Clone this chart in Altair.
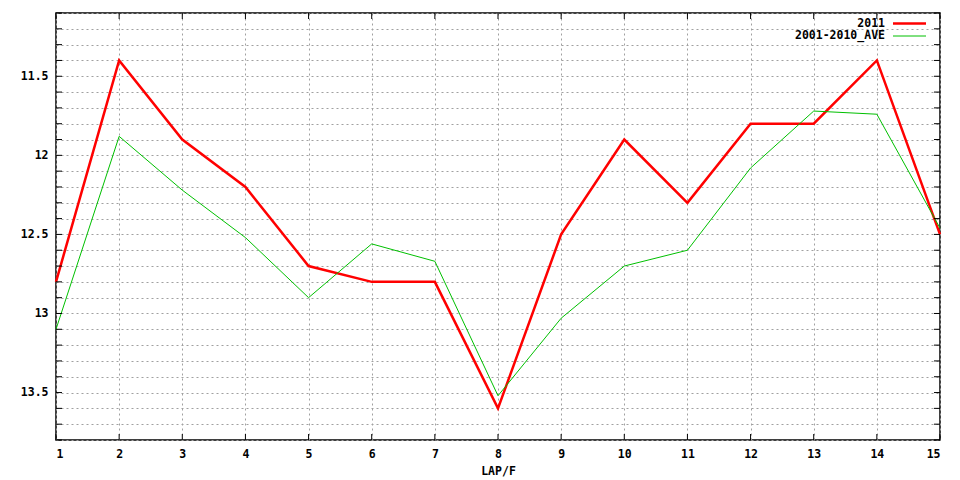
import altair as alt
import pandas as pd

laps = list(range(1, 16))
series_2011 = [12.8, 11.4, 11.9, 12.2, 12.7, 12.8, 12.8, 13.6, 12.5, 11.9, 12.3, 11.8, 11.8, 11.4, 12.5]
series_ave = [13.1, 11.88, 12.22, 12.52, 12.9, 12.56, 12.67, 13.52, 13.03, 12.7, 12.6, 12.08, 11.72, 11.74, 12.46]
series_names = ["2011", "2001-2010_AVE"]
series_colors = ["#ff0000", "#00c000"]
series_widths = [2.5, 1]
y_ticks = [round(11.1 + 0.1 * i, 1) for i in range(28)]

rows = []
for x, v in zip(laps, series_2011):
    rows.append({"lap": x, "time": v, "series": series_names[0]})
for x, v in zip(laps, series_ave):
    rows.append({"lap": x, "time": v, "series": series_names[1]})
df = pd.DataFrame(rows)

W, H = 884, 427
FONT = "DejaVu Sans Mono"
FS = 11.5

xscale = alt.Scale(domain=[1, 15], nice=False, zero=False)
yscale = alt.Scale(domain=[11.1, 13.8], reverse=True, nice=False, zero=False)
cscale = alt.Scale(domain=series_names, range=series_colors)
wscale = alt.Scale(domain=series_names, range=series_widths)

xaxis = alt.Axis(values=laps, title="LAP/F", grid=True, gridColor="#a0a0a0", gridDash=[2, 3],
                 gridOpacity=1, ticks=False, domain=False, labelFont=FONT, labelFontWeight="bold",
                 labelFontSize=FS, labelColor="black", labelPadding=8, titleFont=FONT,
                 titleFontWeight="bold", titleFontSize=FS, titlePadding=6, titleColor="black")
yaxis = alt.Axis(values=y_ticks, title=None, grid=True, gridColor="#a0a0a0", gridDash=[2, 3],
                 gridOpacity=1, ticks=False, domain=False,
                 labelExpr="abs(datum.value*2 - round(datum.value*2)) < 0.01 ? format(datum.value, '') : ''",
                 labelFont=FONT, labelFontWeight="bold", labelFontSize=FS, labelColor="black",
                 labelPadding=8, labelBaseline="middle")

lines = alt.Chart(df).mark_line().encode(
    x=alt.X("lap:Q", scale=xscale, axis=xaxis),
    y=alt.Y("time:Q", scale=yscale, axis=yaxis),
    color=alt.Color("series:N", scale=cscale, legend=None),
    strokeWidth=alt.StrokeWidth("series:N", scale=wscale, legend=None),
    order=alt.Order("lap:Q"),
)

# inward ticks
ytick_df = pd.DataFrame({"time": y_ticks})
yt_left = alt.Chart(ytick_df).mark_rule(color="black", strokeWidth=1).encode(
    y=alt.Y("time:Q", scale=yscale, axis=yaxis), x=alt.value(0), x2=alt.value(6))
yt_right = alt.Chart(ytick_df).mark_rule(color="black", strokeWidth=1).encode(
    y=alt.Y("time:Q", scale=yscale, axis=yaxis), x=alt.value(W - 6), x2=alt.value(W))
xtick_df = pd.DataFrame({"lap": laps})
xt_bot = alt.Chart(xtick_df).mark_rule(color="black", strokeWidth=1).encode(
    x=alt.X("lap:Q", scale=xscale, axis=xaxis), y=alt.value(H - 6), y2=alt.value(H))
xt_top = alt.Chart(xtick_df).mark_rule(color="black", strokeWidth=1).encode(
    x=alt.X("lap:Q", scale=xscale, axis=xaxis), y=alt.value(0), y2=alt.value(6))

# legend
leg_df = pd.DataFrame({"series": series_names})
leg_layers = []
for i, name in enumerate(series_names):
    ypos = 10.5 + 12.5 * i
    base = alt.Chart(leg_df).transform_filter(alt.datum.series == name)
    leg_layers.append(base.mark_text(align="right", baseline="middle", font=FONT, fontWeight="bold",
                                     fontSize=FS, color="black").encode(
        text="series:N", x=alt.value(W - 55), y=alt.value(ypos)))
    leg_layers.append(base.mark_rule(color=series_colors[i], strokeWidth=series_widths[i]).encode(
        x=alt.value(W - 47), x2=alt.value(W - 14), y=alt.value(ypos)))

chart = alt.layer(lines, yt_left, yt_right, xt_bot, xt_top, *leg_layers).properties(
    width=W, height=H,
    padding={"left": 48, "top": 5, "right": 10, "bottom": 38},
    autosize=alt.AutoSizeParams(type="none"),
    background="white",
).configure_view(stroke="black", strokeWidth=1.5)

chart.save("out.html", embed_options={"renderer": "svg", "actions": False})
